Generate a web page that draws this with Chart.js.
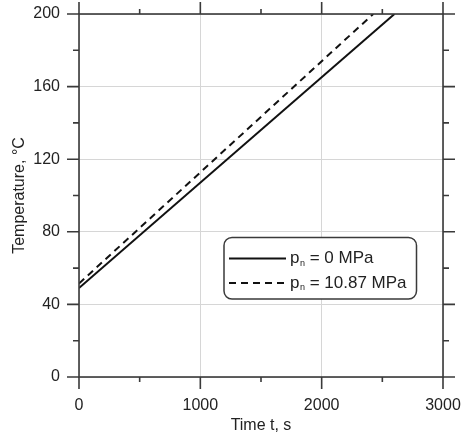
<!DOCTYPE html>
<html>
<head>
<meta charset="utf-8">
<script src="https://cdn.jsdelivr.net/npm/chart.js@4/dist/chart.umd.min.js"></script>
<style>
  html, body { margin: 0; padding: 0; background: #fff; }
  #wrap { width: 462px; height: 440px; }
</style>
</head>
<body>
<div id="wrap"><canvas id="c" width="462" height="440"></canvas></div>
<script>
// ---- data ----
const seriesLabels = ['pₙ = 0 MPa', 'pₙ = 10.87 MPa'];
const legendBase = ['p', 'p'];
const legendSub = ['n', 'n'];
const legendRest = [' = 0 MPa', ' = 10.87 MPa'];
const timeSolid = [0, 2600];
const tempSolid = [49, 200];
const timeDashed = [0, 2425];
const tempDashed = [51.5, 200];
const xMajorTicks = [0, 1000, 2000, 3000];
const xMinorTicks = [500, 1500, 2500];
const yMajorTicks = [0, 40, 80, 120, 160, 200];
const yMinorTicks = [20, 60, 100, 140, 180];
const xTitle = 'Time t, s';
const yTitle = 'Temperature, °C';

const toPts = (xs, ys) => xs.map((x, i) => ({ x: x, y: ys[i] }));

const FONT = '"Liberation Sans", Arial, Helvetica, sans-serif';
const FRAME = '#3a3a3a';

const framePlugin = {
  id: 'frameTicks',
  afterDatasetsDraw(chart) {
    const { ctx, chartArea: a, scales } = chart;
    const xs = scales.x, ys = scales.y;
    ctx.save();
    ctx.strokeStyle = FRAME;
    ctx.lineWidth = 1.6;
    ctx.lineCap = 'butt';
    ctx.strokeRect(a.left, a.top, a.right - a.left, a.bottom - a.top);
    const tick = (vals, len, horiz) => {
      vals.forEach(v => {
        ctx.beginPath();
        if (horiz) {
          const px = xs.getPixelForValue(v);
          ctx.moveTo(px, a.bottom); ctx.lineTo(px, a.bottom + len);
          ctx.moveTo(px, a.top); ctx.lineTo(px, a.top - len);
        } else {
          const py = ys.getPixelForValue(v);
          ctx.moveTo(a.left, py); ctx.lineTo(a.left - len, py);
          ctx.moveTo(a.right, py); ctx.lineTo(a.right + len, py);
        }
        ctx.stroke();
      });
    };
    tick(xMajorTicks, 12, true);
    tick(xMinorTicks, 5, true);
    tick(yMajorTicks, 12, false);
    tick(yMinorTicks, 6, false);
    ctx.restore();
  },
  afterDraw(chart) {
    const { ctx } = chart;
    // legend box
    const bx = 224, by = 237.5, bw = 192.5, bh = 61.5, r = 8;
    ctx.save();
    ctx.beginPath();
    ctx.moveTo(bx + r, by);
    ctx.arcTo(bx + bw, by, bx + bw, by + bh, r);
    ctx.arcTo(bx + bw, by + bh, bx, by + bh, r);
    ctx.arcTo(bx, by + bh, bx, by, r);
    ctx.arcTo(bx, by, bx + bw, by, r);
    ctx.closePath();
    ctx.fillStyle = '#fff';
    ctx.fill();
    ctx.strokeStyle = FRAME;
    ctx.lineWidth = 1.5;
    ctx.stroke();
    const rows = [258.5, 283];
    chart.data.datasets.forEach((ds, i) => {
      const y = rows[i];
      ctx.beginPath();
      ctx.strokeStyle = ds.borderColor;
      ctx.lineWidth = ds.borderWidth;
      ctx.setLineDash(ds.borderDash || []);
      ctx.moveTo(229, y); ctx.lineTo(286, y);
      ctx.stroke();
      ctx.setLineDash([]);
      ctx.fillStyle = '#222';
      ctx.textBaseline = 'middle';
      ctx.textAlign = 'left';
      let x = 290;
      ctx.font = '17px ' + FONT;
      ctx.fillText(legendBase[i], x, y);
      x += ctx.measureText(legendBase[i]).width;
      ctx.font = '9px ' + FONT;
      ctx.fillText(legendSub[i], x + 0.5, y + 5);
      x += ctx.measureText(legendSub[i]).width + 0.5;
      ctx.font = '17px ' + FONT;
      ctx.fillText(legendRest[i], x, y);
    });
    ctx.restore();
  }
};

const zeroPad = s => { s.paddingTop = 0; s.paddingBottom = 0; s.paddingLeft = 0; s.paddingRight = 0; };

new Chart(document.getElementById('c'), {
  type: 'line',
  data: {
    datasets: [
      { label: seriesLabels[0], data: toPts(timeSolid, tempSolid), borderColor: '#111', borderWidth: 2, pointRadius: 0, fill: false, tension: 0 },
      { label: seriesLabels[1], data: toPts(timeDashed, tempDashed), borderColor: '#111', borderWidth: 2, borderDash: [7, 5], pointRadius: 0, fill: false, tension: 0 }
    ]
  },
  options: {
    responsive: false,
    animation: false,
    devicePixelRatio: 1,
    layout: { padding: { top: 14, right: 19, left: 0, bottom: 0 } },
    plugins: { legend: { display: false }, tooltip: { enabled: false } },
    scales: {
      x: {
        type: 'linear', min: 0, max: 3000,
        afterBuildTicks: s => { s.ticks = xMajorTicks.map(v => ({ value: v })); },
        afterFit: s => { s.height = 63; zeroPad(s); },
        grid: { color: '#d6d6d6', lineWidth: 1, drawTicks: false },
        border: { display: false },
        ticks: { padding: 19, color: '#222', font: { family: FONT, size: 16 }, maxRotation: 0, callback: v => String(v) },
        title: { display: true, text: xTitle, color: '#222', font: { family: FONT, size: 16 }, padding: { top: 0, bottom: 5 } }
      },
      y: {
        type: 'linear', min: 0, max: 200,
        afterBuildTicks: s => { s.ticks = yMajorTicks.map(v => ({ value: v })); },
        afterFit: s => { s.width = 79; zeroPad(s); },
        grid: { color: '#d6d6d6', lineWidth: 1, drawTicks: false },
        border: { display: false },
        ticks: { padding: 19, color: '#222', font: { family: FONT, size: 16 }, callback: v => String(v) },
        title: { display: true, text: yTitle, color: '#222', font: { family: FONT, size: 16 }, padding: { top: 10, bottom: 0 } }
      }
    }
  },
  plugins: [framePlugin]
});
</script>
</body>
</html>
